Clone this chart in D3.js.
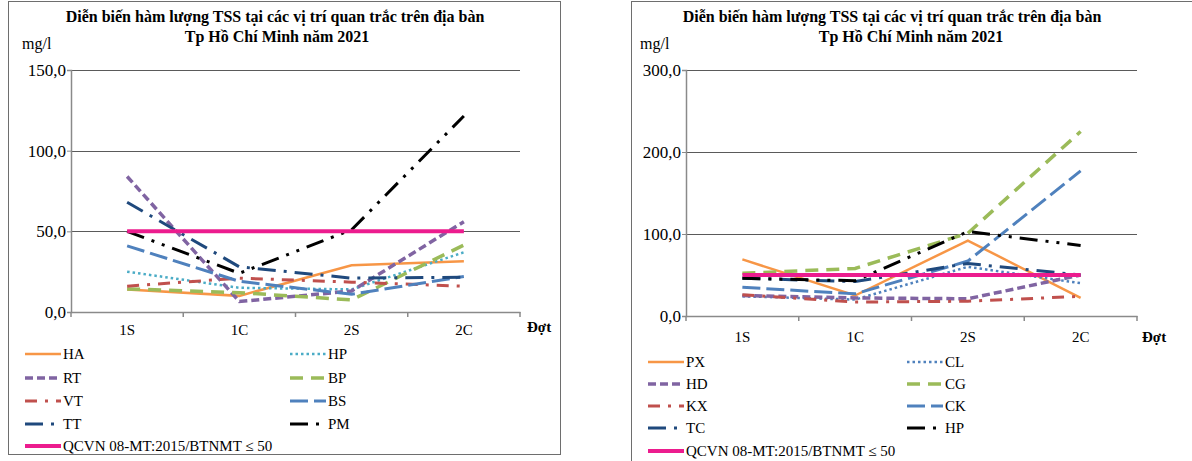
<!DOCTYPE html>
<html>
<head>
<meta charset="utf-8">
<script src="https://cdn.jsdelivr.net/npm/d3@7"></script>
<style>
  body { margin: 0; background: #fff; }
  text { font-family: "Liberation Serif", "Times New Roman", serif; fill: #000; }
</style>
</head>
<body>
<svg id="chart" width="1192" height="461" font-family="Liberation Serif"></svg>
<script>
// categories (đợt quan trắc)
var categories = ["1S", "1C", "2S", "2C"];

// left chart series
var leftNames = ["HA", "HP", "RT", "BP", "VT", "BS", "TT", "PM", "QCVN 08-MT:2015/BTNMT  \u2264 50"];
var HA = [14, 10, 29, 31.5];
var HP_l = [25, 15, 14, 37];
var RT = [84, 6.5, 13, 56];
var BP = [14.3, 12, 7.5, 41.5];
var VT = [16, 21, 18.5, 16];
var BS = [41, 19, 11, 22];
var TT = [68, 28, 21, 21.5];
var PM = [50, 24, 51, 121.5];
var QCVN_l = [50, 50, 50, 50];
var leftValues = [HA, HP_l, RT, BP, VT, BS, TT, PM, QCVN_l];
var leftTicks = [0, 50, 100, 150];

// right chart series
var rightNames = ["PX", "CL", "HD", "CG", "KX", "CK", "TC", "HP", "QCVN 08-MT:2015/BTNMT  \u2264 50"];
var PX = [69, 25, 92, 22];
var CL = [24, 20, 60, 40];
var HD = [25, 22, 21, 50];
var CG = [52, 58, 101, 225];
var KX = [26, 17, 18, 24];
var CK = [35, 27, 67, 177];
var TC = [46, 42, 64, 50];
var HP_r = [46, 43, 103, 86];
var QCVN_r = [50, 50, 50, 50];
var rightValues = [PX, CL, HD, CG, KX, CK, TC, HP_r, QCVN_r];
var rightTicks = [0, 100, 200, 300];

var titleLine1 = "Di\u1ec5n bi\u1ebfn h\u00e0m l\u01b0\u1ee3ng TSS t\u1ea1i c\u00e1c v\u1ecb tr\u00ed quan tr\u1eafc tr\u00ean \u0111\u1ecba b\u00e0n";
var titleLine2 = "Tp H\u1ed3 Ch\u00ed Minh n\u0103m 2021";

// line styles, same order as the series
function styles(dotColor) {
  return [
    { color: "#F79646", width: 2.5, dash: null },
    { color: dotColor, width: 2.5, dash: "2.5 3" },
    { color: "#8064A2", width: 3.5, dash: "8 4" },
    { color: "#9BBB59", width: 3.5, dash: "13 8" },
    { color: "#C0504D", width: 3, dash: "12 8 3 8" },
    { color: "#4F81BD", width: 3, dash: "18 6" },
    { color: "#1F497D", width: 3, dash: "18 8 3 8" },
    { color: "#000000", width: 3, dash: "18 8 3 8 3 8" },
    { color: "#EC1C8E", width: 4, dash: null }
  ];
}

var FONT = "'Liberation Serif', 'Times New Roman', serif";
var svg = d3.select("#chart");
svg.append("rect").attr("width", 1192).attr("height", 461).attr("fill", "#fff");

function drawChart(o) {
  var g = svg.append("g");

  // frame
  g.append("rect")
    .attr("x", o.frame[0] + 0.5).attr("y", o.frame[1] + 0.5)
    .attr("width", o.frame[2]).attr("height", o.frame[3])
    .attr("fill", "none").attr("stroke", "#6e6e6e").attr("stroke-width", 1);

  var x = d3.scaleBand().domain(categories).range([o.x0, o.x1]);
  var y = d3.scaleLinear().domain([0, o.ticks[o.ticks.length - 1]]).range([o.y0, o.yTop]);

  // gridlines
  g.append("g")
    .attr("transform", "translate(" + o.x0 + ",0)")
    .call(d3.axisLeft(y).tickValues(o.ticks.slice(1)).tickSize(-(o.x1 - o.x0)).tickFormat(""))
    .call(a => a.select(".domain").remove())
    .selectAll("line").attr("stroke", "#5a5a5a").attr("shape-rendering", "crispEdges");

  // y axis
  var yAx = g.append("g")
    .attr("transform", "translate(" + o.x0 + ",0)")
    .call(d3.axisLeft(y).tickValues(o.ticks).tickSize(4).tickPadding(1)
      .tickFormat(d => d3.format(".1f")(d).replace(".", ",")));
  yAx.attr("font-family", null);
  yAx.select(".domain").attr("stroke", "#8a8a8a").attr("stroke-width", 1.5);
  yAx.selectAll("line").attr("stroke", "#8a8a8a");
  yAx.selectAll("text").style("font-family", FONT).style("font-size", "17px");

  // x axis
  var xAx = g.append("g")
    .attr("transform", "translate(0," + o.y0 + ")")
    .call(d3.axisBottom(x).tickSize(0).tickPadding(o.xPad).tickSizeOuter(0));
  xAx.attr("font-family", null);
  xAx.select(".domain").attr("stroke", "#8a8a8a").attr("stroke-width", 1.5);
  xAx.selectAll("text").style("font-family", FONT).style("font-size", "15px");
  var bounds = categories.map(c => x(c)).concat([o.x1]);
  xAx.selectAll(".sep").data(bounds).enter().append("line")
    .attr("x1", d => d).attr("x2", d => d).attr("y1", 0).attr("y2", 5)
    .attr("stroke", "#8a8a8a").attr("stroke-width", 1.5);

  // series lines
  var st = styles(o.dotColor);
  var line = d3.line().x((d, i) => x(categories[i]) + x.bandwidth() / 2).y(d => y(d));
  o.values.forEach(function (vals, k) {
    g.append("path")
      .attr("d", line(vals))
      .attr("fill", "none")
      .attr("stroke", st[k].color)
      .attr("stroke-width", st[k].width)
      .attr("stroke-dasharray", st[k].dash);
  });

  // titles
  g.append("text").attr("x", o.t1x).attr("y", 22).attr("text-anchor", "middle")
    .style("font-family", FONT).style("font-weight", "bold").style("font-size", "16px").text(titleLine1);
  g.append("text").attr("x", o.t2x).attr("y", 42).attr("text-anchor", "middle")
    .style("font-family", FONT).style("font-weight", "bold").style("font-size", "16px").text(titleLine2);
  g.append("text").attr("x", o.unitX).attr("y", 49)
    .style("font-family", FONT).style("font-size", "16px").text("mg/l");
  g.append("text").attr("x", o.dotX).attr("y", o.dotY)
    .style("font-family", FONT).style("font-weight", "bold").style("font-size", "15px").text("\u0110\u1ee3t");

  // legend
  o.names.forEach(function (name, k) {
    var col = (k === 8) ? 0 : k % 2;
    var row = (k === 8) ? 4 : Math.floor(k / 2);
    var lx = o.legX[col], ly = o.legY[row];
    g.append("line")
      .attr("x1", lx).attr("x2", lx + 36).attr("y1", ly).attr("y2", ly)
      .attr("stroke", st[k].color).attr("stroke-width", st[k].width)
      .attr("stroke-dasharray", st[k].dash);
    g.append("text").attr("x", lx + 38).attr("y", ly + 5)
      .style("font-family", FONT).style("font-size", "15px").text(name);
  });
}

drawChart({
  frame: [8, 1, 552, 453],
  x0: 71, x1: 520, y0: 312, yTop: 70,
  ticks: leftTicks, values: leftValues, names: leftNames,
  dotColor: "#4BACC6", xPad: 12,
  t1x: 275, t2x: 277, unitX: 22, dotX: 527, dotY: 332,
  legX: [25, 290], legY: [354, 378, 401, 424, 446]
});

drawChart({
  frame: [631, 1, 600, 480],
  x0: 686, x1: 1137, y0: 316, yTop: 70,
  ticks: rightTicks, values: rightValues, names: rightNames,
  dotColor: "#4F81BD", xPad: 15,
  t1x: 892, t2x: 911, unitX: 640, dotX: 1142, dotY: 342,
  legX: [648, 907], legY: [362, 384, 406, 428, 451]
});
</script>
</body>
</html>
